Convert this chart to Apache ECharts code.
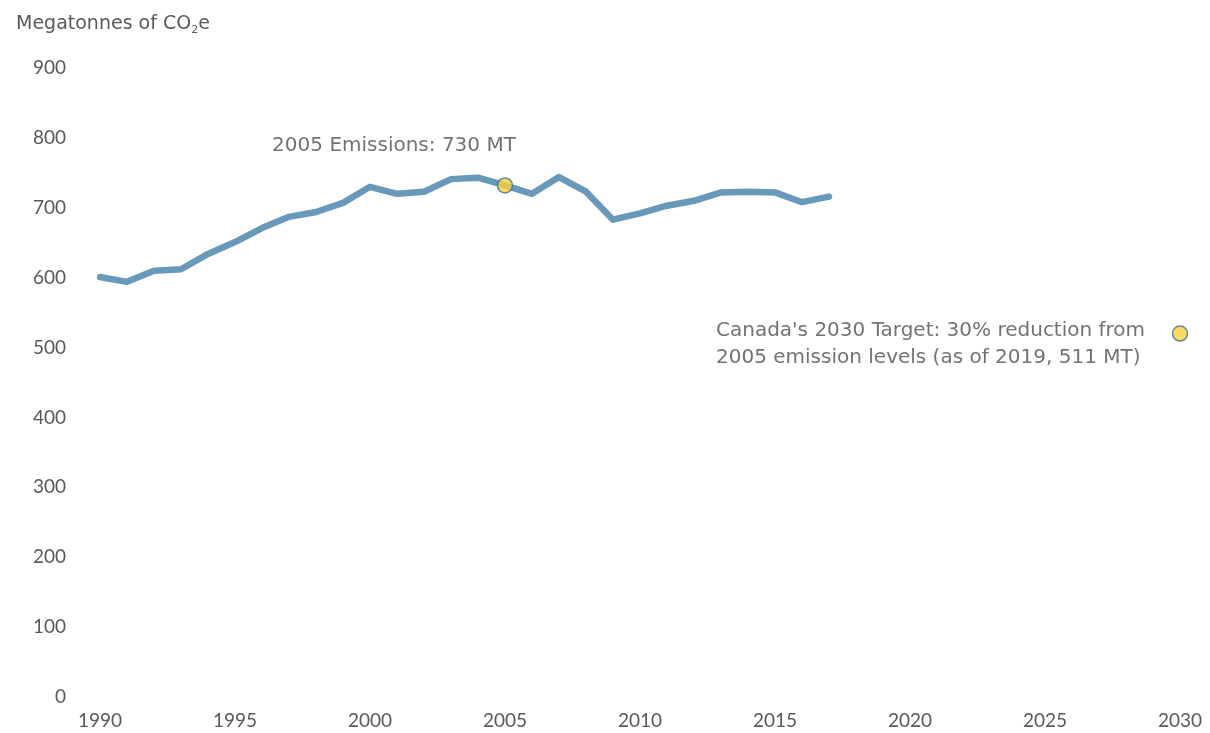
<!DOCTYPE html>
<html>
<head>
<meta charset="utf-8">
<script src="https://cdn.jsdelivr.net/npm/echarts@6/dist/echarts.min.js"></script>
<style>
  html, body { margin: 0; padding: 0; background: #fff; }
  #chart { width: 1210px; height: 733px; }
</style>
</head>
<body>
<div id="chart"></div>
<script>
// emissions, Mt CO2e
var years = [1990, 1991, 1992, 1993, 1994, 1995, 1996, 1997, 1998, 1999,
  2000, 2001, 2002, 2003, 2004, 2005, 2006, 2007, 2008, 2009,
  2010, 2011, 2012, 2013, 2014, 2015, 2016, 2017]
var emissions = [601, 594, 610, 612, 634, 651, 671, 687, 694, 707,
  730, 720, 723, 741, 743, 732, 720, 744, 723, 683,
  692, 703, 710, 722, 723, 722, 708, 716]
var baseYear = 2005
var targetYear = 2030
var targetValue = 520
var yTicks = [0, 100, 200, 300, 400, 500, 600, 700, 800, 900]
var xTicks = [1990, 1995, 2000, 2005, 2010, 2015, 2020, 2025, 2030]

var font = 'Lato'
var textFont = 'DejaVu Sans'
var grey = '#595959'
var noteGrey = '#4f4f4f'

var chart = echarts.init(document.getElementById('chart'))

var lineData = years.map(function (y, i) { return [y, emissions[i]] })
var baseValue = emissions[years.indexOf(baseYear)]

var option = {
  animation: false,
  title: {
    text: 'Megatonnes of CO{sub|2}e',
    left: 11,
    top: 7,
    textStyle: {
      fontFamily: textFont,
      fontSize: 19,
      fontWeight: 'normal',
      color: grey,
      rich: {
        sub: { fontFamily: textFont, fontSize: 11, color: grey, padding: [13, 0, 0, 0] }
      }
    }
  },
  grid: { left: 100, right: 30, top: 68, bottom: 36 },
  xAxis: {
    type: 'value',
    min: 1990,
    max: 2030,
    interval: 5,
    splitLine: { show: false },
    axisLine: { show: false },
    axisTick: { show: false },
    axisLabel: {
      color: grey, fontFamily: font, fontSize: 19, margin: 14,
      formatter: function (v) { return xTicks.indexOf(v) >= 0 ? String(v) : '' }
    }
  },
  yAxis: {
    type: 'value',
    min: yTicks[0],
    max: yTicks[yTicks.length - 1],
    interval: 100,
    splitLine: { show: false },
    axisLine: { show: false },
    axisTick: { show: false },
    axisLabel: { color: grey, fontFamily: font, fontSize: 19, margin: 34 }
  },
  series: [
    {
      type: 'line',
      data: lineData,
      symbol: 'none',
      lineStyle: { color: '#6899ba', width: 6.5, cap: 'round', join: 'round' },
      z: 2
    },
    {
      type: 'scatter',
      data: [[baseYear, baseValue]],
      symbolSize: 15,
      itemStyle: { color: '#f9d13b', borderColor: '#41719c', borderWidth: 1.5 },
      label: {
        show: true,
        position: 'top',
        offset: [-111, -16],
        formatter: '2005 Emissions: 730 MT',
        color: noteGrey, fontFamily: textFont, fontSize: 20
      },
      z: 3
    },
    {
      type: 'scatter',
      data: [[targetYear, targetValue]],
      symbolSize: 15,
      itemStyle: { color: '#f9d13b', borderColor: '#41719c', borderWidth: 1.5 },
      label: {
        show: true,
        position: 'inside',
        align: 'left',
        verticalAlign: 'top',
        offset: [-464, -16],
        lineHeight: 27,
        formatter: "Canada's 2030 Target: 30% reduction from\n2005 emission levels (as of 2019, 511 MT)",
        color: noteGrey, fontFamily: textFont, fontSize: 20
      },
      z: 3
    }
  ]
}

chart.setOption(option)
</script>
</body>
</html>
